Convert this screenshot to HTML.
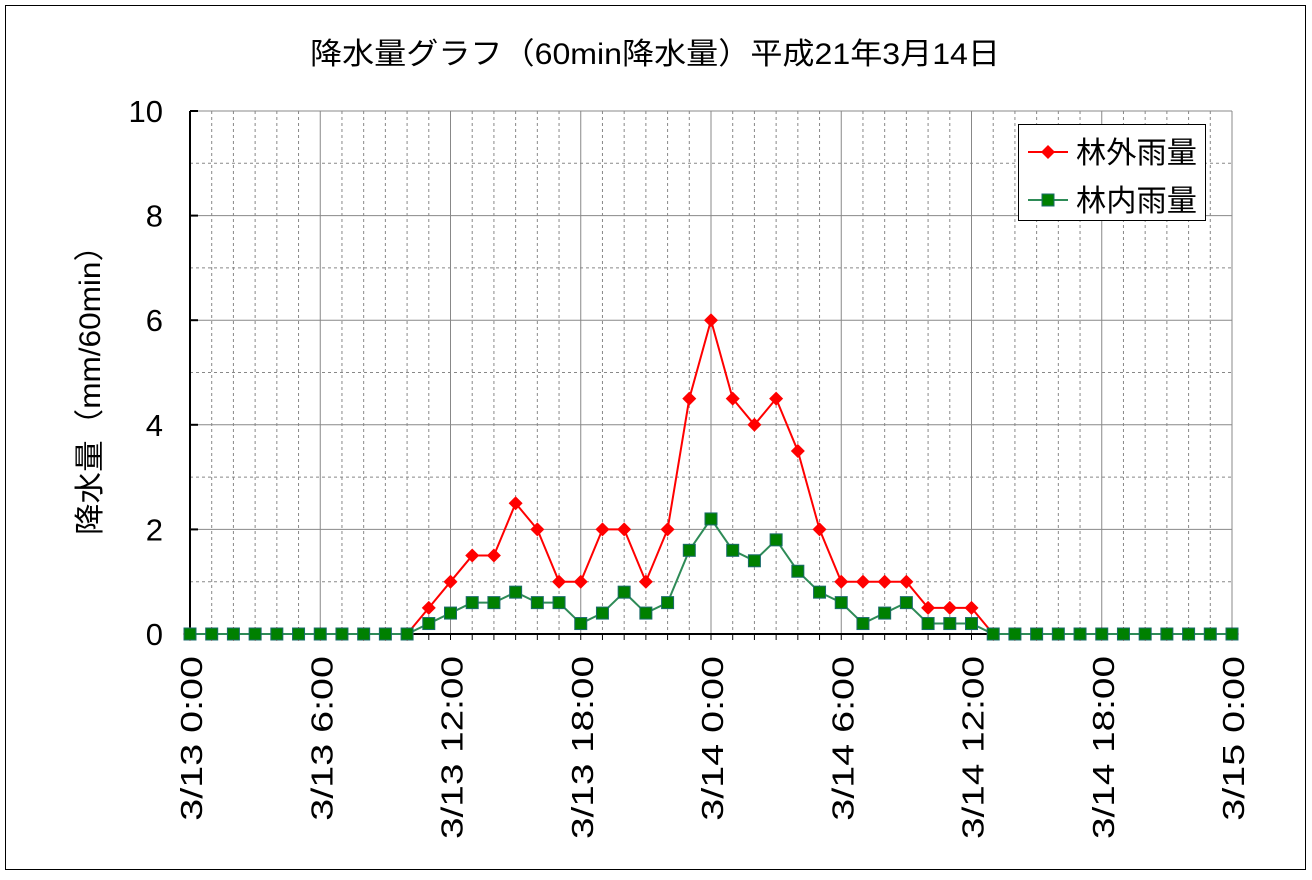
<!DOCTYPE html>
<html><head><meta charset="utf-8"><style>
body{margin:0;background:#fff;}
svg text{font-family:"Liberation Sans","Noto Sans CJK JP",sans-serif;fill:#000;}
</style></head><body>
<svg width="1312" height="875" xmlns="http://www.w3.org/2000/svg">
<rect x="5.5" y="5.5" width="1300" height="864" fill="#fff" stroke="#000"/>
<text x="310" y="64" font-size="30" textLength="690" lengthAdjust="spacingAndGlyphs">降水量グラフ（60min降水量）平成21年3月14日</text>
<text transform="translate(100,535) rotate(-90)" font-size="30" textLength="305" lengthAdjust="spacingAndGlyphs">降水量（mm/60min）</text>
<g id="grid"></g><g id="axes"></g><g id="series"></g>
<g>
<rect x="1018.5" y="124.5" width="187" height="96" fill="#fff" stroke="#000"/>
<line x1="1028" y1="152" x2="1068" y2="152" stroke="#f00" stroke-width="2"/>
<path d="M1048 145 L1055 152 L1048 159 L1041 152Z" fill="#f00"/>
<text x="1076" y="163" font-size="30" textLength="121" lengthAdjust="spacingAndGlyphs">林外雨量</text>
<line x1="1028" y1="200" x2="1068" y2="200" stroke="#2e8b57" stroke-width="2"/>
<rect x="1042" y="194" width="12" height="12" fill="#008000" stroke="#1a6b6b"/>
<text x="1076" y="211" font-size="30" textLength="121" lengthAdjust="spacingAndGlyphs">林内雨量</text>
</g>
</svg>
<script>
const hours=[...Array(49).keys()];
const outside=[0,0,0,0,0,0,0,0,0,0,0,0.5,1,1.5,1.5,2.5,2,1,1,2,2,1,2,4.5,6,4.5,4,4.5,3.5,2,1,1,1,1,0.5,0.5,0.5,0,0,0,0,0,0,0,0,0,0,0,0];
const inside=[0,0,0,0,0,0,0,0,0,0,0,0.2,0.4,0.6,0.6,0.8,0.6,0.6,0.2,0.4,0.8,0.4,0.6,1.6,2.2,1.6,1.4,1.8,1.2,0.8,0.6,0.2,0.4,0.6,0.2,0.2,0.2,0,0,0,0,0,0,0,0,0,0,0,0];
const yTicks=[0,2,4,6,8,10];
const xLabels=["3/13 0:00","3/13 6:00","3/13 12:00","3/13 18:00","3/14 0:00","3/14 6:00","3/14 12:00","3/14 18:00","3/15 0:00"];
const X0=190,X1=1232,Y0=634,Y1=111;
const xs=h=>X0+(X1-X0)*h/48, ys=v=>Y0-(Y0-Y1)*v/10;
const NS="http://www.w3.org/2000/svg";
function mk(p,t,a){const e=document.createElementNS(NS,t);for(const k in a)e.setAttribute(k,a[k]);p.appendChild(e);return e;}
const grid=document.getElementById('grid'),axes=document.getElementById('axes'),ser=document.getElementById('series');
for(let h=1;h<=48;h++){const l=mk(grid,'line',{x1:xs(h),x2:xs(h),y1:Y1,y2:Y0,stroke:'#888','stroke-width':1,'stroke-dasharray':h%6?'3,3':''});

}
for(let v=1;v<=10;v++){const l=mk(grid,'line',{x1:X0,x2:X1,y1:ys(v),y2:ys(v),stroke:'#888','stroke-width':1,'stroke-dasharray':v%2?'3,3':''});

}
mk(axes,'line',{x1:X0,x2:X0,y1:Y1,y2:Y0,stroke:'#000','stroke-width':2});
mk(axes,'line',{x1:X0,x2:X1,y1:Y0,y2:Y0,stroke:'#000','stroke-width':2});
for(let h=0;h<=48;h++)mk(axes,'line',{x1:xs(h),x2:xs(h),y1:Y0,y2:Y0+6,stroke:'#000'});
yTicks.forEach(v=>{mk(axes,'line',{x1:X0,x2:X0+8,y1:ys(v),y2:ys(v),stroke:'#000','stroke-width':2});
const t=mk(axes,'text',{x:163,y:ys(v)+11,'font-size':31,'text-anchor':'end'});t.textContent=v;

});
xLabels.forEach((s,i)=>{const x=xs(i*6)+12;const L=s.length*18.3;const t=mk(axes,'text',{transform:`translate(${x},${656+L}) rotate(-90)`,'font-size':31,textLength:L,lengthAdjust:'spacingAndGlyphs'});t.textContent=s;

});
function line(d,c,nm){const pl=mk(ser,'polyline',{points:hours.map(h=>xs(h)+','+ys(d[h])).join(' '),fill:'none',stroke:c,'stroke-width':2});

}
line(outside,'#f00','outside');
hours.forEach(h=>{const x=xs(h),y=ys(outside[h]);const p=mk(ser,'path',{d:`M${x} ${y-7}L${x+7} ${y}L${x} ${y+7}L${x-7} ${y}Z`,fill:'#f00'});

});
line(inside,'#2e8b57','inside');
hours.forEach(h=>{const x=xs(h),y=ys(inside[h]);const p=mk(ser,'rect',{x:x-6,y:y-6,width:12,height:12,fill:'#008000',stroke:'#1a6b6b'});

});
</script>
</body></html>
